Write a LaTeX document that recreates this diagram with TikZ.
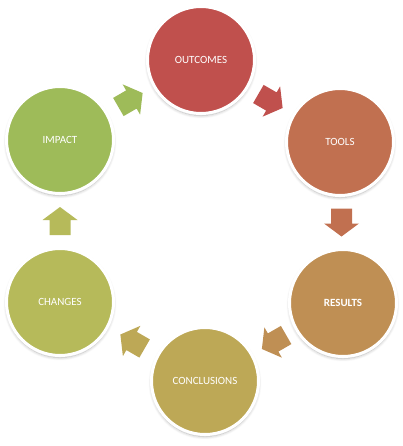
\documentclass[tikz,border=0pt]{standalone}
\usepackage{fontspec}
\setmainfont{Carlito}
\usetikzlibrary{shadows.blur}
\definecolor{cOut}{HTML}{C0504D}
\definecolor{cTool}{HTML}{C17050}
\definecolor{cRes}{HTML}{BF8F54}
\definecolor{cConc}{HTML}{BDA856}
\definecolor{cChg}{HTML}{B6BA5A}
\definecolor{cImp}{HTML}{9EBB59}
\tikzset{
  stage/.style={circle, draw=white, line width=3pt, minimum size=107pt, inner sep=0pt,
    text=white, font=\fontsize{11}{13}\selectfont,
    blur shadow={shadow xshift=0pt, shadow yshift=-2pt, shadow blur steps=6, shadow opacity=30, shadow blur radius=3pt}},
}
\newcommand\blockarrow[3]{%
  \fill[#3, shift={(#1)}, rotate=#2] (-14,-10.5) -- (1,-10.5) -- (1,-17.5) -- (14,0) -- (1,17.5) -- (1,10.5) -- (-14,10.5) -- cycle;}
\begin{document}
\begin{tikzpicture}[x=1pt,y=-1pt]
\useasboundingbox (0,0) rectangle (403,446);
\node[stage, fill=cOut]  (out)  at (201,60)  {OUTCOMES};
\node[stage, fill=cTool] (tool) at (340,142) {TOOLS};
\node[stage, fill=cRes]  (res)  at (343,303) {\bfseries RESULTS};
\node[stage, fill=cConc] (conc) at (205,381) {CONCLUSIONS};
\node[stage, fill=cChg]  (chg)  at (60,302)  {CHANGES};
\node[stage, fill=cImp]  (imp)  at (60,140)  {IMPACT};
\coordinate (m1) at ($(out)!0.5!(tool)$);
\coordinate (m2) at ($(tool)!0.5!(res)$);
\coordinate (m3) at ($(res)!0.5!(conc)$);
\coordinate (m4) at ($(conc)!0.5!(chg)$);
\coordinate (m5) at ($(chg)!0.5!(imp)$);
\coordinate (m6) at ($(imp)!0.5!(out)$);
\blockarrow{m1}{-30}{cOut}
\blockarrow{m2}{-90}{cTool}
\blockarrow{m3}{-150}{cRes}
\blockarrow{m4}{150}{cConc}
\blockarrow{m5}{90}{cChg}
\blockarrow{m6}{30}{cImp}
\end{tikzpicture}
\end{document}
